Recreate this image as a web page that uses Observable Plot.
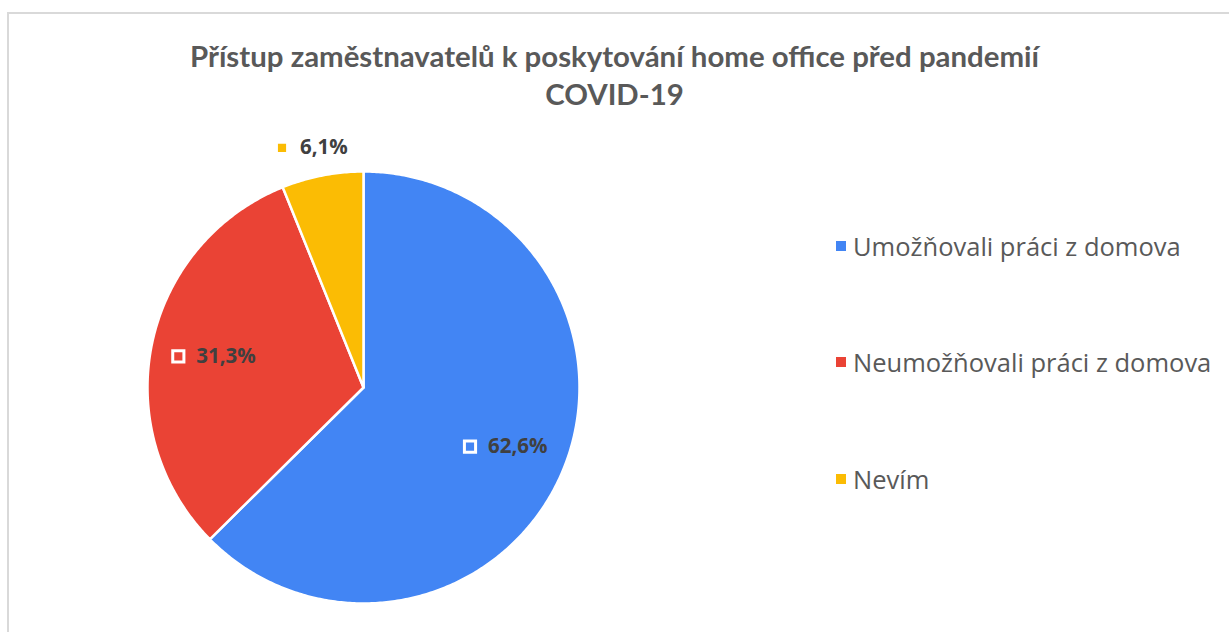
<!DOCTYPE html>
<html><head><meta charset="utf-8">
<script src="https://cdn.jsdelivr.net/npm/d3@7"></script>
<script src="https://cdn.jsdelivr.net/npm/@observablehq/plot@0.6"></script>
<style>
html,body{margin:0;padding:0;background:#fff;}
#wrap{position:relative;width:1229px;height:632px;overflow:hidden;font-family:"Open Sans",sans-serif;}
#frame{position:absolute;left:7px;top:12px;width:1240px;height:640px;border:2px solid #d9d9d9;box-sizing:border-box;}
#title{position:absolute;left:0;top:37px;width:1229px;text-align:center;font-family:Lato,sans-serif;font-weight:700;font-size:29.4px;line-height:38px;color:#595959;z-index:2;}
#chart{position:absolute;left:0;top:0;}
#legend{position:absolute;left:836px;top:0;z-index:2;}
.li{position:absolute;left:0;white-space:nowrap;font-size:25.5px;color:#595959;display:flex;align-items:center;height:30px;}
.sw{width:10px;height:10px;margin-right:7px;}
</style></head>
<body><div id="wrap"><div id="frame"></div>
<div id="title">Přístup zaměstnavatelů k poskytování home office před pandemií<br>COVID-19</div>
<div id="chart"></div><div id="legend"></div></div>
<script>
const categories = ["Umožňovali práci z domova", "Neumožňovali práci z domova", "Nevím"];
const values = [62.6, 31.3, 6.1];
const labels = ["62,6%", "31,3%", "6,1%"];
const colors = ["#4285F4", "#EA4335", "#FBBC04"];

const data = categories.map((c, i) => ({category: c, value: values[i], label: labels[i], color: colors[i]}));
const arcs = d3.pie().sort(null).value(d => d.value)(data);

// slice polygons in unit-radius coordinates (angle 0 = 12 o'clock, clockwise)
const poly = [];
arcs.forEach(a => {
  poly.push({category: a.data.category, x: 0, y: 0});
  const n = Math.max(2, Math.ceil((a.endAngle - a.startAngle) / 0.01));
  for (let k = 0; k <= n; k++) {
    const t = a.startAngle + (a.endAngle - a.startAngle) * k / n;
    poly.push({category: a.data.category, x: Math.sin(t), y: Math.cos(t)});
  }
});
const labs = arcs.map(a => {
  const m = (a.startAngle + a.endAngle) / 2;
  const rr = (a.endAngle - a.startAngle) / (2 * Math.PI) < 0.1 ? 1.13 : 0.71;
  return {category: a.data.category, label: a.data.label, x: Math.sin(m) * rr, y: Math.cos(m) * rr};
});

const plot = Plot.plot({
  width: 1229, height: 632, margin: 0,
  x: {domain: [-1, 1], range: [147, 579], axis: null},
  y: {domain: [-1, 1], range: [603, 171], axis: null},
  color: {domain: categories, range: colors},
  style: {background: "transparent", overflow: "visible"},
  marks: [
    Plot.line(poly, {x: "x", y: "y", z: "category", fill: "category", stroke: "white", strokeWidth: 2.5, curve: "linear-closed"}),
    Plot.dot(labs, {x: "x", y: "y", dx: -35, symbol: "square", r: 6.3, fill: "category", stroke: "white", strokeWidth: 3}),
    Plot.text(labs, {x: "x", y: "y", dx: -17, textAnchor: "start", text: "label", fill: "#404040", fontWeight: "bold", fontSize: 20.5, fontFamily: "Open Sans"})
  ]
});
document.getElementById("chart").appendChild(plot);

const legendY = [246, 362, 479];
const lg = document.getElementById("legend");
categories.forEach((c, i) => {
  const d = document.createElement("div");
  d.className = "li";
  d.style.top = (legendY[i] - 15) + "px";
  d.innerHTML = `<span class="sw" style="background:${colors[i]}"></span>${c}`;
  lg.appendChild(d);
});
</script></body></html>
